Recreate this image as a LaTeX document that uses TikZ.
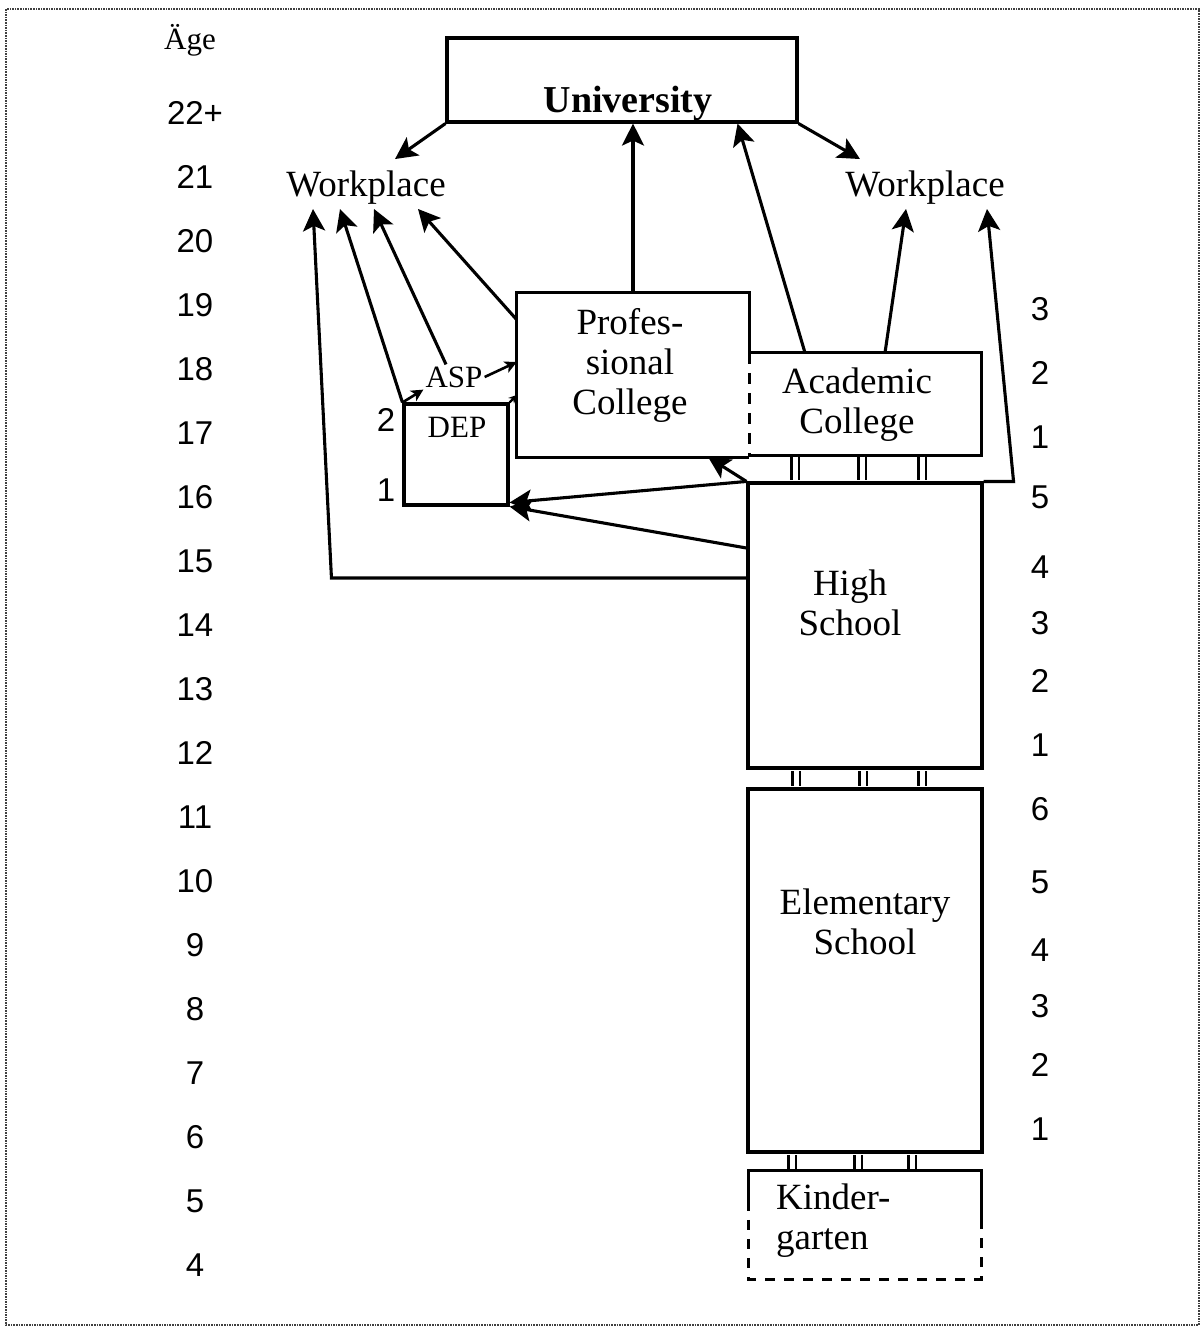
\documentclass[tikz,border=0pt]{standalone}
\usepackage{fontspec}
\setmainfont{Liberation Serif}
\newfontfamily\agefont{Liberation Sans}
\usetikzlibrary{arrows.meta}

\begin{document}
\begin{tikzpicture}[x=1pt,y=-1pt]
\tikzstyle{wall}=[line width=3.1pt]
\tikzstyle{box}=[draw,wall,rectangle,inner sep=0pt]
\tikzstyle{plain}=[rectangle,inner sep=0pt]
\tikzstyle{txt}=[inner sep=4pt,align=center,font=\fontsize{37}{40}\selectfont]
\tikzstyle{small}=[inner sep=2pt,font=\fontsize{31}{34}\selectfont]
\tikzstyle{num}=[inner sep=0pt,font=\agefont\fontsize{33}{36}\selectfont]
\tikzstyle{arr}=[line width=3.1pt,-{Stealth[length=22pt,width=22pt,inset=5pt]}]
\tikzstyle{tip}=[line width=2.6pt,-{Stealth[length=12pt,width=12pt,inset=3pt]}]
\tikzstyle{rail}=[draw=black,double=white,double distance=5pt,line width=2.6pt,shorten <=1.5pt,shorten >=1.5pt]
\useasboundingbox (0,0) rectangle (1201,1328);
\draw[densely dotted,line width=1.6pt,black!75] (6,9) rectangle (1199,1325);

% ages and grades
\node[small] (agehead) at (190,40) {Äge};
\foreach \a [count=\i from 0] in {22+,21,20,19,18,17,16,15,14,13,12,11,10,9,8,7,6,5,4}
  \node[num] (age\i) at (195,113+64*\i) {\a};
\foreach \g/\y [count=\k] in {3/309,2/373,1/437,5/497,4/567,3/623,2/681,1/745,6/809,5/882,4/950,3/1006,2/1065,1/1129}
  \node[num] (grade\k) at (1040,\y) {\g};

% institutions
\node[box,minimum width=350,minimum height=84] (univ) at (622,80) {};
\node[txt,font=\fontsize{38}{40}\selectfont\bfseries] (univtext) at (628,103) {University};
\node[plain,minimum width=232,minimum height=164] (prof) at (633,375) {};
\node[plain,minimum width=232,minimum height=102] (acad) at (865,404) {};
\draw[wall] (prof.south east) -- (prof.south west) -- (prof.north west) -- (prof.north east)
  -- (prof.east |- acad.north) -- (acad.north east) -- (acad.south east) -- (acad.south west);
\draw[wall,dash pattern=on 11pt off 9pt] (prof.east |- acad.north) -- (prof.south east);
\node[txt] (proftext) at (630,365) {Profes-\\sional\\College};
\node[txt] (acadtext) at (857,405) {Academic\\College};
\node[box,minimum width=234,minimum height=285] (hs) at (865,625.5) {};
\node[txt] (hstext) at (850,603) {High\\School};
\node[box,minimum width=234,minimum height=363] (elem) at (865,970.5) {};
\node[txt] (elemtext) at (865,922) {Elementary\\School};
\node[plain,minimum width=232,minimum height=108] (kg) at (865,1225) {};
\draw[wall] ([yshift=-30pt]kg.north west) -- (kg.north west) -- (kg.north east) -- ([yshift=-50pt]kg.north east);
\draw[wall,dash pattern=on 10pt off 9pt] ([yshift=-30pt]kg.north west) -- (kg.south west) -- (kg.south east) -- ([yshift=-50pt]kg.north east);
\node[txt,align=left,anchor=west] (kgtext) at (772,1221) {Kinder-\\garten};
\node[box,minimum width=104,minimum height=101] (dep) at (456,454.5) {};
\node[small] (deptext) at (457,427) {DEP};
\node[small] (asp) at (454,377) {ASP};
\node[num] (dep2) at (386,420) {2};
\node[num] (dep1) at (386,490) {1};
\node[txt] (wpl) at (366,188) {Workplace};
\node[txt] (wpr) at (925,188) {Workplace};

% links between levels
\foreach \d in {-70,-3,57}
  \draw[rail] ([xshift=\d pt]acad.south) -- ([xshift=\d pt]hs.north);
\foreach \d in {-69,-2,57}
  \draw[rail] ([xshift=\d pt]hs.south) -- ([xshift=\d pt]elem.north);
\foreach \d in {-73,-7,47}
  \draw[rail] ([xshift=\d pt]elem.south) -- ([xshift=\d pt]kg.north);

% paths
\draw[arr] (univ.south west) -- ([xshift=29pt,yshift=8pt]wpl.north);
\draw[arr] (univ.south east) -- ([xshift=-65pt,yshift=8pt]wpr.north);
\draw[arr] (prof.north) -- (prof.north |- univ.south);
\draw[arr] ([xshift=-60pt]acad.north) -- ([xshift=-61pt]univ.south east);
\draw[arr] ([xshift=20pt]acad.north) -- ([xshift=-19pt]wpr.south);
\draw[arr] (hs.north east) -- ++(30,0) -- ([xshift=62pt]wpr.south);
\draw[arr] ([yshift=-27pt]prof.north west) -- ([xshift=52pt]wpl.south);
\draw[arr] ([xshift=-8pt]asp.north) -- ([xshift=8pt]wpl.south);
\draw[arr] (dep.north west) -- ([xshift=-26pt]wpl.south);
\draw[arr] ([yshift=47.5pt]hs.west) -- ++(-415,0) -- ([xshift=-53pt]wpl.south);
\draw[tip] (dep.north west) -- (asp.south west);
\draw[tip] (asp.east) -- ([yshift=13pt]prof.west);
\draw[line width=2.2pt,-{Stealth[length=8pt,width=8pt]}] (dep.north east) -- ([yshift=-20pt]prof.west);
\draw[arr] (hs.north west) -- ([yshift=4pt]dep.south east);
\draw[arr] ([yshift=77.5pt]hs.west) -- (dep.south east);
\draw[arr] (hs.north west) -- ([xshift=-41pt]prof.south east);
\end{tikzpicture}
\end{document}
